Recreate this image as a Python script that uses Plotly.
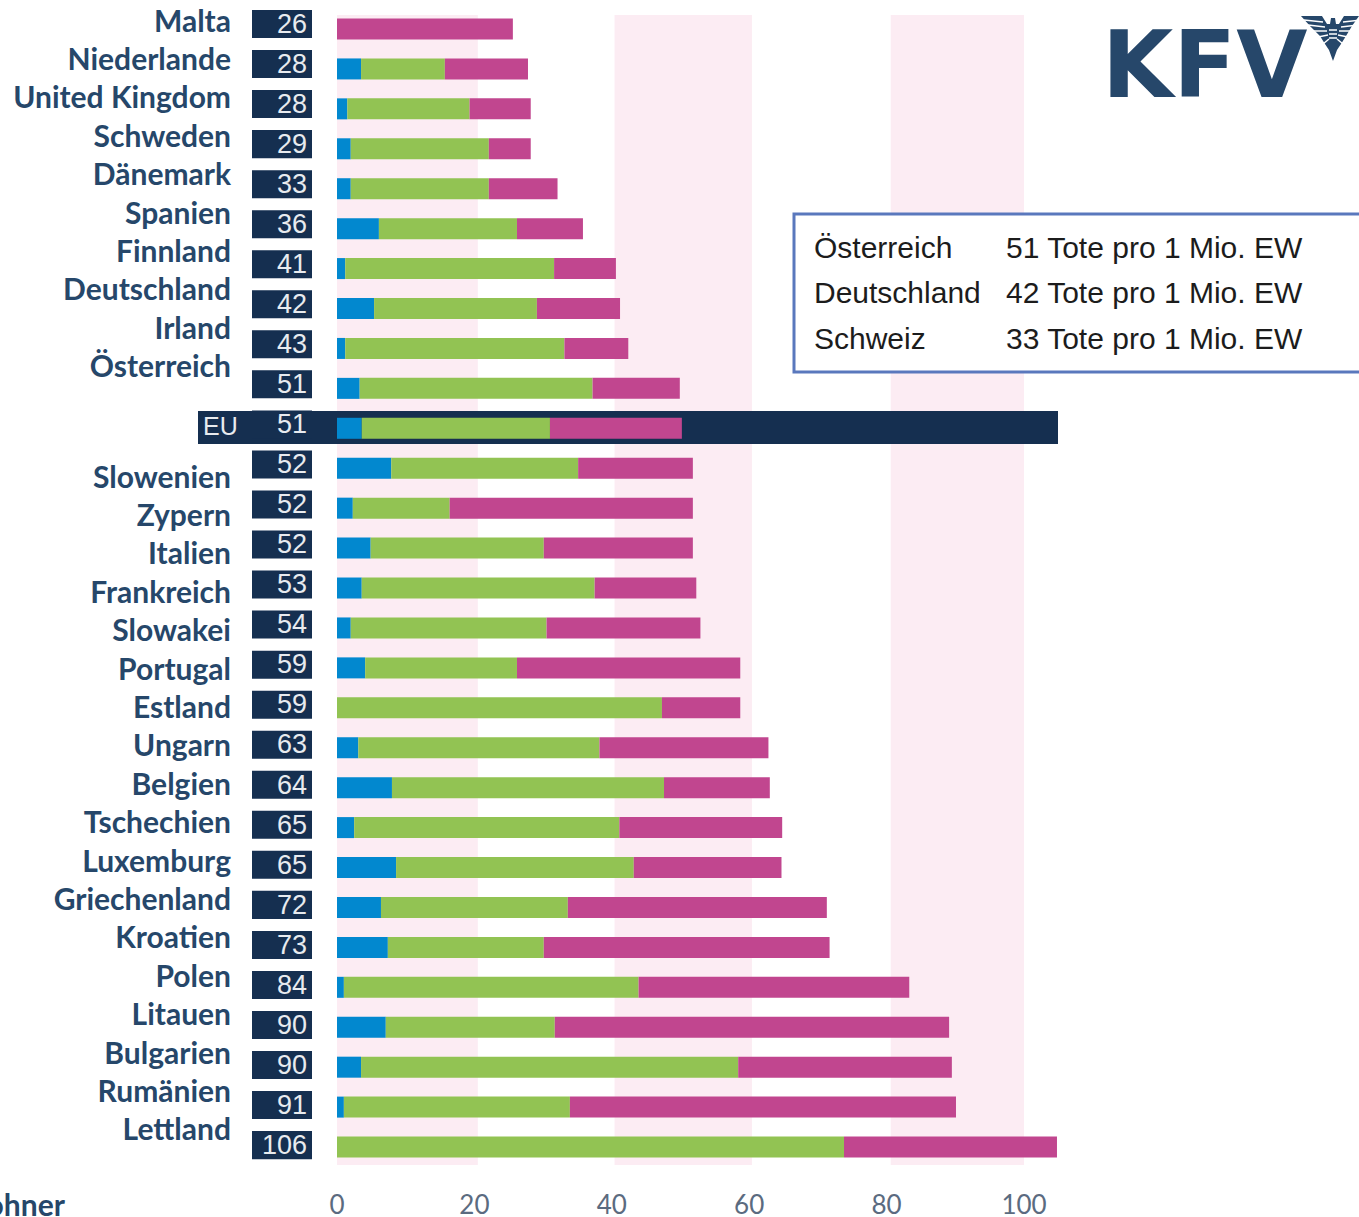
import plotly.graph_objects as go

countries = ["Malta", "Niederlande", "United Kingdom", "Schweden", "Dänemark", "Spanien", "Finnland",
             "Deutschland", "Irland", "Österreich", "EU", "Slowenien", "Zypern", "Italien", "Frankreich",
             "Slowakei", "Portugal", "Estland", "Ungarn", "Belgien", "Tschechien", "Luxemburg",
             "Griechenland", "Kroatien", "Polen", "Litauen", "Bulgarien", "Rumänien", "Lettland"]
totals = [26, 28, 28, 29, 33, 36, 41, 42, 43, 51, 51, 52, 52, 52, 53, 54, 59, 59, 63, 64, 65, 65, 72, 73,
          84, 90, 90, 91, 106]
blue = [0, 3.5, 1.5, 2.0, 2.0, 6.1, 1.2, 5.4, 1.2, 3.3, 3.6, 7.9, 2.3, 4.9, 3.6, 2.0, 4.1, 0, 3.1, 8.0,
        2.5, 8.6, 6.4, 7.4, 1.0, 7.1, 3.5, 1.0, 0]
green = [0, 12.2, 17.8, 20.1, 20.1, 20.1, 30.4, 23.7, 31.9, 33.9, 27.4, 27.2, 14.1, 25.2, 33.9, 28.5, 22.1,
         47.3, 35.1, 39.6, 38.6, 34.6, 27.2, 22.7, 42.9, 24.6, 54.9, 32.9, 73.8]
magenta = [25.6, 12.1, 8.9, 6.1, 10.0, 9.6, 9.0, 12.1, 9.3, 12.7, 19.2, 16.7, 35.4, 21.7, 14.8, 22.4, 32.5,
           11.4, 24.6, 15.4, 23.7, 21.5, 37.7, 41.6, 39.4, 57.4, 31.1, 56.2, 31.0]
info_names = ["Österreich", "Deutschland", "Schweiz"]
info_values = ["51 Tote pro 1 Mio. EW", "42 Tote pro 1 Mio. EW", "33 Tote pro 1 Mio. EW"]
x_ticks = [0, 20, 40, 60, 80, 100]

W, H, PLOT_H = 1359, 1217, 1187
NAVY = "#152f50"
TEXT = "#26476a"
rows = list(range(len(countries)))
eu_row = countries.index("EU")
label_names = [c for c in countries if c != "EU"]
# labels leave a gap where the EU strip sits
label_rows = [i if i < eu_row else i + 1.875 for i in range(len(label_names))]


def px_x(p):
    # pixel column to value axis
    return (p - 337) / 6.87


def paper_x(p):
    return p / W


def paper_y(p):
    return (PLOT_H - p) / PLOT_H


def poly(points):
    return "M" + " L".join(f"{paper_x(a):.5f},{paper_y(b):.5f}" for a, b in points) + " Z"


fig = go.Figure()

# dark EU strip runs under its row
fig.add_trace(go.Bar(y=[eu_row - 0.02], x=[px_x(1058) - px_x(198)], base=[px_x(198)], orientation="h", width=0.83,
                     marker=dict(color=NAVY, line=dict(width=0)), showlegend=False, hoverinfo="skip"))

base_green = blue
base_magenta = [a + b for a, b in zip(blue, green)]
for vals, start, color, name in [(blue, [0] * len(blue), "#0288cf", "blue"),
                                 (green, base_green, "#92c353", "green"),
                                 (magenta, base_magenta, "#c1468f", "magenta")]:
    fig.add_trace(go.Bar(name=name, y=rows, x=vals, base=start, orientation="h", width=0.526,
                         marker=dict(color=color, line=dict(width=0)), showlegend=False))

# value boxes have their own slightly different row pitch
fig.add_trace(go.Bar(y=rows, x=[px_x(312) - px_x(252)] * len(rows), base=px_x(252), orientation="h", width=0.7,
                     yaxis="y2", marker=dict(color=NAVY, line=dict(width=0)), showlegend=False, hoverinfo="skip"))
fig.add_trace(go.Scatter(y=[r + 0.05 for r in rows], x=[px_x(307)] * len(rows), yaxis="y2", mode="text", text=totals,
                         textposition="middle left",
                         textfont=dict(family="Liberation Sans", size=27, color="#e8ebef"),
                         showlegend=False, hoverinfo="skip"))

# country labels, also on their own pitch
fig.add_trace(go.Scatter(y=label_rows, x=[px_x(231)] * len(label_names), yaxis="y3",
                         mode="text", text=label_names, textposition="middle left", cliponaxis=False,
                         textfont=dict(family="Lato", size=30, color=TEXT, weight=700),
                         showlegend=False, hoverinfo="skip"))

shapes = []
for a, b in [(0, 20.5), (40.4, 60.4), (80.6, 100)]:
    shapes.append(dict(type="rect", xref="x", yref="paper", x0=a, x1=b, y0=paper_y(1165), y1=paper_y(15),
                       fillcolor="#fcecf3", line=dict(width=0), layer="below"))
shapes.append(dict(type="rect", xref="paper", yref="paper", x0=paper_x(794), x1=paper_x(1362),
                   y0=paper_y(372), y1=paper_y(214), fillcolor="white", line=dict(color="#5a78bd", width=3)))

# eagle next to the logo
shapes.append(dict(type="path", xref="paper", yref="paper", line=dict(width=0), fillcolor=TEXT,
                   path=poly([(1301, 16), (1322, 16), (1327, 24), (1330, 24), (1331, 18), (1335, 18), (1336, 24),
                              (1339, 24), (1344, 16), (1359, 16), (1352, 26), (1346, 36), (1341, 44), (1337, 50),
                              (1333, 61), (1329, 50), (1325, 44), (1320, 36), (1310, 26)])))
for x0, y0, x1, y1 in [(1304, 20, 1323, 22), (1308, 25, 1325, 27), (1313, 31, 1327, 31), (1318, 37, 1328, 35),
                       (1323, 44, 1329, 39)]:
    for a, b in [(x0, x1), (2666 - x0, 2666 - x1)]:
        shapes.append(dict(type="line", xref="paper", yref="paper", x0=paper_x(a), x1=paper_x(b),
                           y0=paper_y(y0), y1=paper_y(y1), line=dict(color="white", width=1.5)))
for y0 in (30, 34, 38):
    shapes.append(dict(type="line", xref="paper", yref="paper", x0=paper_x(1329), x1=paper_x(1337),
                       y0=paper_y(y0), y1=paper_y(y0), line=dict(color="white", width=1.5)))

annotations = [
    dict(text="EU", xref="paper", yref="paper", x=paper_x(220), y=paper_y(426), showarrow=False,
         xanchor="center", yanchor="middle",
         font=dict(family="Liberation Sans", size=25, color="#e8ebef")),
    dict(text="KFV", xref="paper", yref="paper", x=paper_x(1204), y=paper_y(65), showarrow=False,
         xanchor="center", yanchor="middle",
         font=dict(family="DejaVu Sans", size=92, color=TEXT, weight=900)),
    dict(text="Tote pro 1 Mio. Einwohner", xref="paper", yref="paper", xanchor="right", yanchor="middle",
         x=paper_x(68), y=paper_y(1204), showarrow=False,
         font=dict(family="Lato", size=30, color=TEXT, weight=700)),
]
for i, (n, v) in enumerate(zip(info_names, info_values)):
    y = paper_y(248 + 45 * i)
    annotations.append(dict(text=n, xref="paper", yref="paper", xanchor="left", yanchor="middle", x=paper_x(812),
                            y=y, showarrow=False, font=dict(family="Liberation Sans", size=30, color="#1c1c1c")))
    annotations.append(dict(text=v, xref="paper", yref="paper", xanchor="left", yanchor="middle", x=paper_x(1004),
                            y=y, showarrow=False, font=dict(family="Liberation Sans", size=30, color="#1c1c1c")))

fig.update_layout(
    width=W, height=H,
    margin=dict(l=0, r=0, t=0, b=H - PLOT_H, autoexpand=False),
    barmode="overlay", plot_bgcolor="white", paper_bgcolor="white",
    shapes=shapes, annotations=annotations,
    xaxis=dict(range=[px_x(0), px_x(W)], tickvals=x_ticks, showgrid=False, zeroline=False, showline=False,
               ticks="", tickfont=dict(family="Lato", size=26, color="#5b6b80")),
    yaxis=dict(range=[(PLOT_H - 29) / 39.93, -29 / 39.93], visible=False),
    yaxis2=dict(range=[(PLOT_H - 24) / 40.04, -24 / 40.04], overlaying="y", visible=False),
    yaxis3=dict(range=[(PLOT_H - 24) / 38.4, -24 / 38.4], overlaying="y", visible=False),
)

fig.write_html("out.html", config=dict(displayModeBar=False),
               post_script="document.body.style.margin = '0';")
